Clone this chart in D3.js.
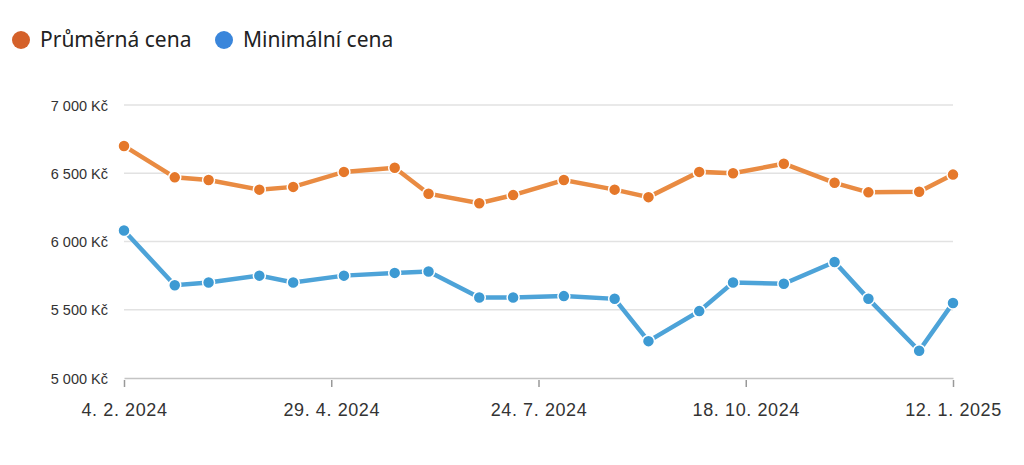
<!DOCTYPE html>
<html>
<head>
<meta charset="utf-8">
<script src="https://cdn.jsdelivr.net/npm/d3@7"></script>
<style>
  body { margin: 0; background: #fff; }
  svg { display: block; }
  .legend text { font-family: "Noto Sans", sans-serif; font-size: 21px; fill: #222; }
  .axis text { font-family: "Liberation Sans", Arial, sans-serif; fill: #333; }
</style>
</head>
<body>
<svg id="chart" width="1024" height="465"></svg>
<script>
// data
const dates = ['2024-02-04', '2024-02-25', '2024-03-10', '2024-03-31', '2024-04-14',
  '2024-05-05', '2024-05-26', '2024-06-09', '2024-06-30', '2024-07-14',
  '2024-08-04', '2024-08-25', '2024-09-08', '2024-09-29', '2024-10-13',
  '2024-11-03', '2024-11-24', '2024-12-08', '2024-12-29', '2025-01-12'];
const avgPrice = [6700, 6470, 6450, 6380, 6400, 6510, 6540, 6350, 6280, 6340,
  6450, 6380, 6325, 6510, 6500, 6570, 6430, 6360, 6365, 6490];
const minPrice = [6080, 5680, 5700, 5750, 5700, 5750, 5770, 5780, 5590, 5590,
  5600, 5580, 5270, 5490, 5700, 5690, 5850, 5580, 5200, 5550];
const yTicks = [5000, 5500, 6000, 6500, 7000];
const seriesNames = ['Průměrná cena', 'Minimální cena'];

const series = [
  { name: seriesNames[0], values: avgPrice, line: '#e98b42', dot: '#e5782a', key: '#d4612a' },
  { name: seriesNames[1], values: minPrice, line: '#4da3d8', dot: '#3d9ad3', key: '#3a86db' }
];

const svg = d3.select('#chart');
const margin = { left: 124, right: 71, top: 105, bottom: 87 };
const width = 1024, height = 465;

const parse = d3.timeParse('%Y-%m-%d');
const xDates = dates.map(parse);

const x = d3.scaleTime()
  .domain(d3.extent(xDates))
  .range([margin.left, width - margin.right]);
const y = d3.scaleLinear()
  .domain([5000, 7000])
  .range([height - margin.bottom, margin.top]);

// grid lines
svg.append('g')
  .selectAll('line')
  .data(yTicks.slice(1))
  .enter().append('line')
  .attr('x1', margin.left).attr('x2', width - margin.right)
  .attr('y1', d => y(d)).attr('y2', d => y(d))
  .attr('stroke', '#e2e2e2').attr('stroke-width', 1.5);

// y axis labels
const fmtNum = d => d3.format(',')(d).replace(/,/g, '\u00a0') + ' Kč';
const yAxis = svg.append('g')
  .attr('class', 'axis')
  .attr('transform', 'translate(' + (margin.left - 16) + ',0)')
  .call(d3.axisLeft(y).tickValues(yTicks).tickFormat(fmtNum).tickSize(0));
yAxis.select('.domain').remove();
yAxis.selectAll('text').attr('font-size', 14.5).attr('dy', '0.35em').attr('x', 0);

// x axis - five evenly spaced ticks over the domain
const [t0, t1] = x.domain();
const xTicks = d3.range(5).map(i => new Date(+t0 + (t1 - t0) * i / 4));
const xAxis = svg.append('g')
  .attr('class', 'axis')
  .attr('transform', 'translate(0,' + y(5000) + ')')
  .call(d3.axisBottom(x).tickValues(xTicks).tickFormat(d3.timeFormat('%-d. %-m. %Y')).tickSize(9).tickSizeOuter(0));
xAxis.select('.domain').attr('stroke', '#c4c4c4').attr('stroke-width', 1.5);
xAxis.selectAll('.tick line').attr('stroke', '#999').attr('stroke-width', 1.5).attr('y1', 2);
xAxis.selectAll('text').attr('font-size', 18).attr('letter-spacing', '0.6px').attr('y', 25);

// lines + markers
const line = d3.line()
  .x((d, i) => x(xDates[i]))
  .y(d => y(d));

series.forEach(s => {
  svg.append('path')
    .datum(s.values)
    .attr('d', line)
    .attr('fill', 'none')
    .attr('stroke', s.line)
    .attr('stroke-width', 4.5);

  svg.append('g')
    .selectAll('circle')
    .data(s.values)
    .enter().append('circle')
    .attr('cx', (d, i) => x(xDates[i]))
    .attr('cy', d => y(d))
    .attr('r', 6)
    .attr('fill', s.dot)
    .attr('stroke', '#fff')
    .attr('stroke-width', 1.5);
});

// legend
const legend = svg.append('g').attr('class', 'legend');
const legendX = [21, 224];
series.forEach((s, i) => {
  const g = legend.append('g').attr('transform', 'translate(' + legendX[i] + ',40)');
  g.append('circle').attr('r', 9).attr('fill', s.key);
  g.append('text').attr('x', 19).attr('dy', '0.35em').text(s.name);
});
</script>
</body>
</html>
